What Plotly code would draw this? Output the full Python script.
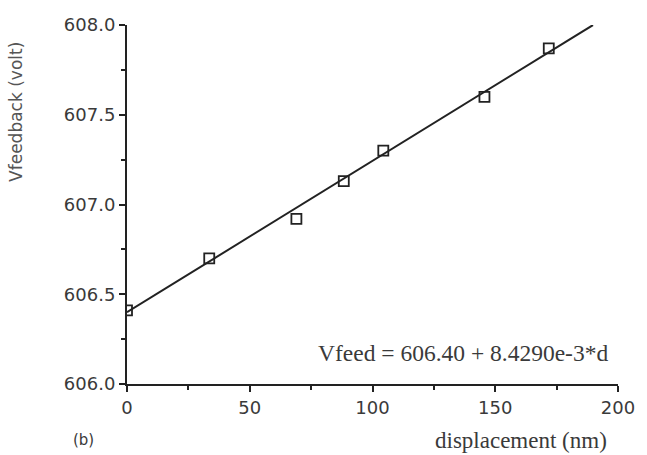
import plotly.graph_objects as go

# Data
displacement_nm = [0, 33.5, 69, 88.3, 104.4, 145.6, 171.8]
vfeedback_volt = [606.41, 606.70, 606.92, 607.13, 607.30, 607.60, 607.87]

# Fit shown on the chart
fit_intercept = 606.40
fit_slope = 8.4290e-3
fit_x = [0, 189.8]
fit_y = [fit_intercept + fit_slope * x for x in fit_x]

x_ticks = [0, 50, 100, 150, 200]
y_ticks = [606.0, 606.5, 607.0, 607.5, 608.0]

INK = "#222222"
TXT = "#3a3a3a"
SANS = "DejaVu Sans, Arial, sans-serif"
SERIF = "Liberation Serif, Times New Roman, serif"

fig = go.Figure()
fig.add_trace(go.Scatter(x=fit_x, y=fit_y, mode="lines",
                         line=dict(color=INK, width=2), showlegend=False))
fig.add_trace(go.Scatter(x=displacement_nm, y=vfeedback_volt, mode="markers",
                         marker=dict(symbol="square-open", size=10, color=INK,
                                     line=dict(width=1.8, color=INK)),
                         showlegend=False))

fig.update_layout(
    width=647, height=455,
    margin=dict(l=127, r=22, t=25, b=71),
    paper_bgcolor="white", plot_bgcolor="white",
    font=dict(family=SANS, color=TXT, size=17),
    xaxis=dict(range=[0, 200], tickvals=x_ticks, ticktext=[str(v) for v in x_ticks],
               showgrid=False, zeroline=False, showline=True, linecolor=INK, linewidth=2,
               ticks="outside", ticklen=6, tickwidth=1.6, tickcolor=INK,
               minor=dict(dtick=25, ticks="outside", ticklen=4, tickwidth=1.6, tickcolor=INK),
               tickfont=dict(size=18, color=TXT, family=SANS)),
    yaxis=dict(range=[606, 608], tickvals=y_ticks, ticktext=[f"{v:.1f}" for v in y_ticks],
               showgrid=False, zeroline=False, showline=True, linecolor=INK, linewidth=2,
               ticks="outside", ticklen=6, tickwidth=1.6, tickcolor=INK,
               minor=dict(dtick=0.25, ticks="outside", ticklen=4, tickwidth=1.6, tickcolor=INK),
               tickfont=dict(size=18, color=TXT, family=SANS)),
)

fig.add_annotation(text="Vfeedback (volt)", xref="paper", yref="paper",
                   x=-0.226, y=0.758, textangle=-90, showarrow=False,
                   xanchor="center", yanchor="middle",
                   font=dict(size=17, color="#555555", family=SANS))
fig.add_annotation(text="displacement (nm)", xref="paper", yref="paper",
                   x=0.982, y=-0.156, xanchor="right", yanchor="middle", showarrow=False,
                   font=dict(size=23, color=TXT, family=SERIF))
fig.add_annotation(text="(b)", xref="paper", yref="paper",
                   x=-0.115, y=-0.156, xanchor="left", yanchor="middle", showarrow=False,
                   font=dict(size=15, color=TXT, family=SANS))
fig.add_annotation(text="Vfeed = 606.40 + 8.4290e-3*d", xref="paper", yref="paper",
                   x=0.685, y=0.086, xanchor="center", yanchor="middle", showarrow=False,
                   font=dict(size=23.5, color=TXT, family=SERIF))

fig.write_html("out.html", config={"displayModeBar": False},
               post_script="document.body.style.margin='0';document.body.style.overflow='hidden';")
